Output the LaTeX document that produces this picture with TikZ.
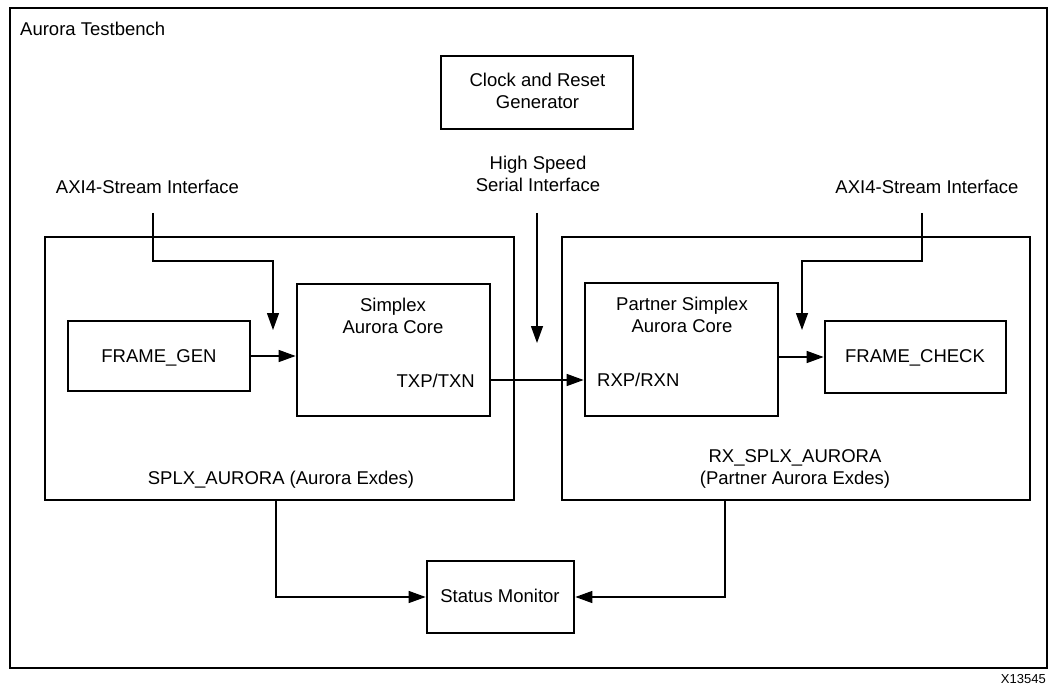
\documentclass[tikz,border=0pt]{standalone}
\usepackage{fontspec}
\setmainfont{Liberation Sans}
\usetikzlibrary{arrows.meta}
\begin{document}
\begin{tikzpicture}[x=1pt,y=-1pt,
  blk/.style={draw, line width=2.7pt, inner sep=0pt},
  txt/.style={font=\fontsize{18.5}{24}\selectfont, inner sep=0pt},
  conn/.style={line width=1.3pt},
  arr/.style={conn, -{Triangle[length=17pt,width=12pt]}}]
\useasboundingbox (0,0) rectangle (1058,687);
% outer testbench
\node[blk, line width=2.4pt, minimum width=1037pt, minimum height=660pt] (tb) at (528.5,338) {};
\node[txt, anchor=base west] (tbl) at (20,36) {Aurora Testbench};
% clock box
\node[blk, minimum width=192pt, minimum height=73pt] (clk) at (537,92.5) {};
\node[txt, anchor=base] (clk1) at (537.5,87) {Clock and Reset};
\node[txt, anchor=base] (clk2) at (537.5,109) {Generator};
% interface labels
\node[txt, anchor=base] (axil) at (147.5,194) {AXI4-Stream Interface};
\node[txt, anchor=base] (axir) at (927,194) {AXI4-Stream Interface};
\node[txt, anchor=base] (hss1) at (538,170) {High Speed};
\node[txt, anchor=base] (hss2) at (538,192) {Serial Interface};
% big boxes
\node[blk, minimum width=469pt, minimum height=263pt] (splx) at (279.5,368.5) {};
\node[blk, minimum width=468pt, minimum height=263pt] (rx) at (796,368.5) {};
\node[txt, anchor=base] (splxl) at (281,484) {SPLX\_AURORA (Aurora Exdes)};
\node[txt, anchor=base] (rxl1) at (795,462) {RX\_SPLX\_AURORA};
\node[txt, anchor=base] (rxl2) at (795,484) {(Partner Aurora Exdes)};
% inner boxes
\node[blk, minimum width=182pt, minimum height=70pt] (fg) at (159,356) {};
\node[txt, anchor=base] (fgl) at (159,362) {FRAME\_GEN};
\node[blk, minimum width=193pt, minimum height=132pt] (core) at (393.5,350) {};
\node[txt, anchor=base] (core1) at (393,312) {Simplex};
\node[txt, anchor=base] (core2) at (393,334) {Aurora Core};
\node[txt, anchor=base east] (txp) at (475,387) {TXP/TXN};
\node[blk, minimum width=193pt, minimum height=133pt] (pc) at (681.5,349.5) {};
\node[txt, anchor=base] (pc1) at (682,310) {Partner Simplex};
\node[txt, anchor=base] (pc2) at (682,332) {Aurora Core};
\node[txt, anchor=base west] (rxp) at (597,386) {RXP/RXN};
\node[blk, minimum width=181pt, minimum height=72pt] (fc) at (915.5,357) {};
\node[txt, anchor=base] (fcl) at (915,362) {FRAME\_CHECK};
% status monitor
\node[blk, minimum width=147pt, minimum height=72pt] (sm) at (500.5,597) {};
\node[txt, anchor=base] (sml) at (500,602) {Status Monitor};
% label
\node[font=\fontsize{13}{15}\selectfont, inner sep=0pt, anchor=base east] (xid) at (1046,683) {X13545};
% free-end coordinates
\coordinate (al0) at (153,213);
\coordinate (al1) at (273,330);
\coordinate (ar0) at (922,213);
\coordinate (ar1) at (802,330);
\coordinate (hs0) at (537,213);
\coordinate (hs1) at (537,343);
\coordinate (sl0) at (276,500);
\coordinate (sr0) at (725,500);
% connectors
\draw[arr] (al0) |- (273,261) -- (al1);
\draw[arr] (ar0) |- (802,261) -- (ar1);
\draw[arr] (hs0) -- (hs1);
\draw[arr] (fg.east) -- (fg.east -| core.west);
\draw[arr] (core.east |- 0,380) -- (pc.west |- 0,380);
\draw[arr] (pc.east |- fc.west) -- (fc.west);
\draw[arr] (sl0) |- (sm.west);
\draw[arr] (sr0) |- (sm.east);
\end{tikzpicture}
\end{document}
